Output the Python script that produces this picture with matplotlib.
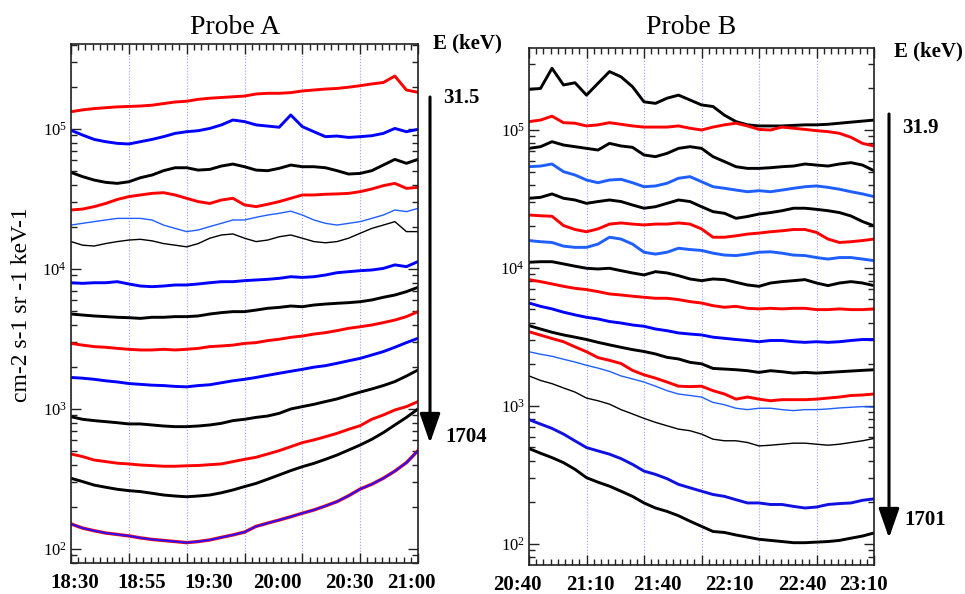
#!/usr/bin/env python3
"""Two-probe differential flux stack (Probe A / Probe B), log scale,
one trace per energy channel, values read at 5-minute steps."""
import matplotlib
matplotlib.use("Agg")
import matplotlib.pyplot as plt
import matplotlib.transforms as mtransforms
from matplotlib.ticker import LogLocator, MultipleLocator, NullFormatter

plt.rcParams["font.family"] = ["Liberation Serif", "DejaVu Serif"]
plt.rcParams["mathtext.fontset"] = "stix"

# minutes since the start of each window (18:30 for A, 20:40 for B)
MINUTES = list(range(0, 151, 5))

A_TICK_LABELS = ["18:30", "18:55", "19:30", "20:00", "20:30", "21:00"]
A_TICK_POS = [1.7, 30.7, 59.7, 89.0, 120.2, 147.0]
B_TICK_LABELS = ["20:40", "21:10", "21:40", "22:10", "22:40", "23:10"]
B_TICK_POS = [-5.2, 26.5, 55.7, 87.0, 118.7, 145.2]

A_E_FIRST, A_E_LAST = "31.5", "1704"
B_E_FIRST, B_E_LAST = "31.9", "1701"

# ---- Probe A channels, top to bottom (cm-2 s-1 sr-1 keV-1) ----
A01 = [133000, 137000, 140000, 142000, 144000, 145000, 146000, 148000, 152000, 156000, 158000,
       163000, 166000, 168000, 170000, 172000, 178000, 180000, 180000, 182000, 187000,
       190000, 193000, 195000, 199000, 204000, 210000, 215000, 239000, 190000, 183000]
A02 = [98000, 90600, 84300, 81200, 79000, 78200, 81200, 84300, 88200, 93100, 95700,
       97300, 101000, 107000, 116000, 113000, 107000, 105000, 103000, 126000, 104000,
       95700, 88200, 89100, 87100, 88200, 89600, 93100, 101000, 95700, 99500]
A03 = [49000, 45700, 43200, 41600, 40900, 42000, 44900, 46900, 50400, 52900, 52900,
       50900, 51500, 54400, 56200, 53800, 50900, 50400, 52400, 55300, 53800,
       53800, 52900, 50400, 47700, 48200, 50400, 55300, 60700, 56900, 60700]
A04 = [26400, 26800, 27900, 29400, 31400, 32900, 33800, 34700, 35100, 33800, 32000,
       30300, 29400, 31100, 32000, 28700, 27900, 29000, 30300, 32000, 33800,
       33800, 34200, 34400, 34700, 35700, 37300, 39400, 40900, 37700, 38300]
A05 = [20600, 21200, 21800, 22400, 23000, 23000, 23000, 22400, 20600, 19500, 18500,
       19000, 20100, 21200, 22400, 22400, 23400, 24300, 25000, 25900, 24300,
       22400, 21200, 20600, 21200, 21800, 23000, 24300, 26400, 25700, 27100]
A06 = [15700, 14800, 14600, 15200, 15700, 16100, 16300, 15900, 15200, 14800, 14400,
       15200, 16600, 17500, 17800, 16600, 15700, 16100, 17000, 17500, 16600,
       15700, 15400, 15700, 16600, 18000, 19500, 20600, 21800, 18500, 18500]
A07 = [7980, 7900, 7980, 7980, 8120, 7820, 7560, 7480, 7560, 7690, 7690,
       7820, 7980, 8120, 8120, 8260, 8350, 8440, 8580, 8810, 8710,
       8810, 9060, 9410, 9570, 9730, 9840, 10100, 10700, 10400, 11300]
A08 = [4770, 4690, 4620, 4570, 4520, 4490, 4440, 4520, 4520, 4570, 4570,
       4620, 4770, 4880, 4960, 4960, 5090, 5240, 5320, 5440, 5380,
       5530, 5620, 5690, 5750, 5840, 6010, 6280, 6520, 6890, 7400]
A09 = [2940, 2860, 2790, 2760, 2710, 2670, 2640, 2640, 2670, 2640, 2670,
       2710, 2790, 2820, 2860, 2940, 2980, 3080, 3150, 3250, 3320,
       3430, 3510, 3630, 3770, 3870, 3980, 4140, 4320, 4570, 4960]
A10 = [1680, 1660, 1630, 1590, 1560, 1520, 1500, 1480, 1470, 1450, 1440,
       1470, 1490, 1540, 1590, 1630, 1680, 1740, 1800, 1860, 1920,
       1990, 2040, 2120, 2210, 2300, 2430, 2570, 2760, 2980, 3200]
A11 = [881, 844, 826, 812, 798, 782, 782, 769, 756, 748, 748,
       756, 769, 790, 826, 844, 871, 891, 931, 1000, 1040,
       1080, 1130, 1180, 1250, 1320, 1390, 1470, 1570, 1720, 1900]
A12 = [477, 457, 432, 421, 410, 405, 398, 394, 390, 390, 393,
       395, 400, 405, 421, 437, 452, 477, 504, 538, 575,
       601, 634, 670, 716, 760, 844, 906, 984, 1040, 1130]
A13 = [320, 303, 286, 276, 267, 261, 257, 250, 243, 239, 236,
       239, 243, 252, 264, 279, 294, 315, 338, 363, 387,
       409, 437, 469, 509, 553, 607, 678, 769, 871, 1000]
A14 = [151, 141, 135, 130, 127, 124, 120, 117, 115, 113, 111,
       113, 116, 121, 126, 132, 145, 153, 161, 170, 180,
       190, 203, 218, 240, 268, 290, 320, 360, 414, 504]

# ---- Probe B channels, top to bottom ----
B01 = [197000, 200000, 280000, 212000, 220000, 179000, 218000, 265000, 243000, 206000, 160000,
       156000, 170000, 179000, 165000, 152000, 148000, 128000, 115000, 109000, 107000,
       107000, 107000, 108000, 109000, 109000, 110000, 112000, 114000, 116000, 118000]
B02 = [115000, 118000, 126000, 113000, 112000, 107000, 109000, 113000, 110000, 107000, 105000,
       105000, 105000, 107000, 103000, 100000, 105000, 109000, 112000, 107000, 101000,
       100000, 105000, 103000, 101000, 98900, 97300, 94600, 88500, 80000, 76600]
B03 = [73600, 75700, 82300, 77800, 75700, 73600, 71600, 80000, 76600, 74900, 65900,
       64100, 67700, 73600, 75700, 73600, 64100, 59000, 54200, 52700, 52700,
       53300, 54200, 54800, 56700, 55700, 54800, 56700, 58000, 55700, 50700]
B04 = [54200, 54800, 56700, 49900, 47200, 43400, 41500, 43400, 43900, 41500, 38800,
       39300, 41100, 44700, 45900, 42200, 38800, 37800, 36700, 35700, 36300,
       35700, 36700, 37800, 38800, 39300, 38400, 37200, 35700, 34400, 32900]
B05 = [32000, 32500, 34400, 32000, 31100, 29400, 30300, 31100, 30300, 28600, 27100,
       27800, 29400, 31100, 30300, 27800, 25600, 24900, 22900, 23600, 24600,
       25200, 26000, 27100, 27100, 26600, 26000, 25200, 23800, 21700, 20200]
B06 = [24200, 23900, 23700, 20300, 19000, 18300, 19200, 20800, 21200, 20800, 20500,
       20800, 20800, 21200, 20800, 19200, 16700, 16700, 17100, 17600, 17900,
       18300, 18600, 19000, 19000, 18100, 16200, 15300, 15500, 15800, 16200]
B07 = [15800, 15500, 15300, 14400, 14100, 14100, 14900, 16700, 16200, 14900, 13000,
       12600, 13000, 13900, 13600, 13400, 12800, 12400, 12300, 12600, 13000,
       13100, 12800, 12400, 12300, 11900, 11600, 11900, 11900, 11600, 11300]
B08 = [11000, 11100, 11100, 10700, 10300, 9950, 9830, 9950, 9560, 9200, 8900,
       9400, 9200, 8790, 8320, 8090, 8320, 8230, 7870, 7530, 7360,
       7780, 7960, 8090, 8230, 7780, 7450, 7780, 7960, 7780, 7450]
B09 = [8230, 7960, 7660, 7360, 7120, 6970, 6740, 6480, 6370, 6240, 6130,
       6030, 6030, 5900, 5700, 5570, 5330, 5190, 5270, 5100, 5050,
       5100, 5050, 5100, 5100, 4990, 4990, 5050, 4990, 4990, 5050]
B10 = [5570, 5270, 5050, 4780, 4570, 4390, 4270, 4090, 3990, 3860, 3780,
       3610, 3510, 3380, 3320, 3270, 3150, 3090, 3030, 2980, 2920,
       2980, 2980, 2920, 2890, 2920, 2890, 2920, 2980, 3030, 3030]
B11 = [3820, 3610, 3420, 3270, 3150, 3030, 2890, 2770, 2660, 2560, 2480,
       2380, 2250, 2190, 2070, 2020, 1870, 1850, 1830, 1800, 1750,
       1800, 1770, 1730, 1750, 1730, 1750, 1770, 1790, 1810, 1830]
B12 = [3450, 3260, 3080, 2920, 2680, 2470, 2240, 2140, 2030, 1810, 1680,
       1590, 1490, 1390, 1380, 1390, 1290, 1220, 1120, 1160, 1120,
       1090, 1110, 1110, 1110, 1120, 1140, 1160, 1190, 1200, 1220]
B13 = [2470, 2370, 2290, 2180, 2080, 1970, 1880, 1780, 1650, 1570, 1490,
       1390, 1290, 1220, 1190, 1160, 1060, 1020, 962, 940, 962,
       962, 940, 925, 940, 940, 951, 967, 978, 989, 978]
B14 = [1650, 1530, 1450, 1350, 1260, 1140, 1090, 1030, 940, 875, 812,
       760, 718, 679, 661, 625, 574, 559, 559, 543, 513,
       519, 528, 537, 537, 528, 519, 528, 543, 559, 581]
B15 = [795, 739, 687, 625, 558, 499, 472, 447, 415, 377, 337,
       319, 297, 270, 255, 241, 228, 221, 209, 198, 198,
       193, 193, 187, 182, 185, 193, 196, 198, 207, 212]
B16 = [491, 454, 422, 388, 347, 302, 280, 262, 241, 221, 198,
       182, 172, 160, 146, 134, 123, 121, 116, 112, 108,
       106, 104, 102, 102, 103, 104, 106, 110, 114, 120]

RED, BLUE, LBLUE, BLACK = "#ff0000", "#0000ff", "#1f5fff", "#000000"
THICK, THIN = 2.1, 1.0

A_TRACES = [(A01, RED, THICK), (A02, BLUE, THICK), (A03, BLACK, THICK), (A04, RED, THICK),
            (A05, LBLUE, THIN), (A06, BLACK, THIN), (A07, BLUE, THICK), (A08, BLACK, THICK),
            (A09, RED, THICK), (A10, BLUE, THICK), (A11, BLACK, THICK), (A12, RED, THICK),
            (A13, BLACK, THICK), (A14, RED, 2.4), (A14, "#2a10ff", 1.4)]
B_TRACES = [(B01, BLACK, THICK), (B02, RED, THICK), (B03, BLACK, THICK), (B04, LBLUE, THICK),
            (B05, BLACK, THICK), (B06, RED, THICK), (B07, LBLUE, THICK), (B08, BLACK, THICK),
            (B09, RED, THICK), (B10, BLUE, THICK), (B11, BLACK, THICK), (B12, RED, THICK),
            (B13, LBLUE, THIN), (B14, BLACK, THIN), (B15, "#1010e0", THICK), (B16, BLACK, THICK)]

W, H = 965, 594


def fx(px):
    return px / W


def fy(py):
    return 1 - py / H


def setup_axes(ax, ylim, tick_pos, tick_labels):
    ax.set_yscale("log")
    ax.set_xlim(0, 150)
    ax.set_ylim(*ylim)
    ax.xaxis.set_major_locator(MultipleLocator(25))
    ax.xaxis.set_minor_locator(MultipleLocator(25 / 8))
    ax.yaxis.set_major_locator(LogLocator(base=10))
    ax.yaxis.set_minor_locator(LogLocator(base=10, subs=range(2, 10)))
    ax.yaxis.set_minor_formatter(NullFormatter())
    ax.tick_params(axis="both", which="both", direction="in", top=True, right=True,
                   color="#222222", width=1.0)
    ax.tick_params(axis="both", which="major", length=7)
    ax.tick_params(axis="both", which="minor", length=4)
    ax.tick_params(axis="x", labelbottom=False)
    ax.tick_params(axis="y", labelsize=12, pad=3)
    ax.grid(axis="x", which="major", color="#9a9cff", linestyle=":", linewidth=0.8)
    for sp in ax.spines.values():
        sp.set_linewidth(1.2)
        sp.set_color("#222222")
    trans = mtransforms.blended_transform_factory(ax.transData, ax.transAxes)
    for t, lab in zip(tick_pos, tick_labels):
        ax.text(t, -0.039, lab, transform=trans, ha="center", va="center",
                fontsize=15, fontweight="bold", clip_on=False)


fig = plt.figure(figsize=(W / 100, H / 100), dpi=100)
axA = fig.add_axes([fx(71), fy(563), fx(418) - fx(71), fy(44) - fy(563)])
axB = fig.add_axes([fx(529), fy(565), fx(874) - fx(529), fy(48) - fy(565)])

setup_axes(axA, (79.4, 4.05e5), A_TICK_POS, A_TICK_LABELS)
setup_axes(axB, (70.3, 3.93e5), B_TICK_POS, B_TICK_LABELS)

for vals, col, lw in A_TRACES:
    axA.plot(MINUTES, vals, color=col, linewidth=lw, solid_joinstyle="round")
for vals, col, lw in B_TRACES:
    axB.plot(MINUTES, vals, color=col, linewidth=lw, solid_joinstyle="round")

fig.text(fx(235), fy(27), "Probe A", ha="center", va="center", fontsize=20)
fig.text(fx(691), fy(27), "Probe B", ha="center", va="center", fontsize=20)
fig.text(fx(22), fy(305), "cm-2 s-1 sr -1 keV-1", rotation=90, ha="center", va="center",
         fontsize=17)

# energy annotations with downward arrows
for x_e, y_e, x_arr, y0, y1, first, y_first, last, y_last in [
        (433, 43, 430, 97, 443, A_E_FIRST, 98, A_E_LAST, 437),
        (894, 51, 889, 114, 538, B_E_FIRST, 128, B_E_LAST, 520)]:
    fig.text(fx(x_e), fy(y_e), "E (keV)", ha="left", va="center", fontsize=15,
             fontweight="bold")
    fig.text(fx(x_arr + 13), fy(y_first), first, ha="left", va="center", fontsize=15,
             fontweight="bold")
    fig.text(fx(x_arr + 15), fy(y_last), last, ha="left", va="center", fontsize=15,
             fontweight="bold")
    fig.add_artist(matplotlib.patches.FancyArrowPatch(
        (fx(x_arr), fy(y0)), (fx(x_arr), fy(y1)), transform=fig.transFigure,
        arrowstyle="-|>,head_length=1.0,head_width=0.35", mutation_scale=18,
        color="black", linewidth=2.2, shrinkA=0, shrinkB=0))

fig.savefig("out.png", dpi=100)
